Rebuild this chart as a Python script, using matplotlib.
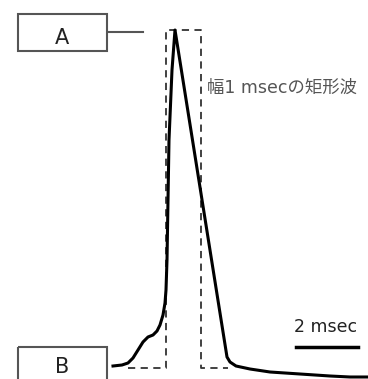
import numpy as np
import matplotlib.pyplot as plt

plt.rcParams['font.family'] = ['DejaVu Sans', 'Noto Sans CJK JP']

# waveform trace (picture units, y grows downward)
wave_x = [113, 122, 128, 133, 138, 143, 148, 153, 157, 160, 163, 165, 166, 167, 169, 172, 175,
          227, 230, 236, 250, 270, 300, 330, 350, 368]
wave_y = [366, 365, 363, 358, 350, 342, 337, 335, 331, 325, 315, 303, 290, 260, 140, 70, 30,
          357, 362, 366, 369, 372, 374, 376, 377, 377]

# 1 msec rectangular pulse
rect_x = [128, 166, 166, 201, 201, 228]
rect_y = [368, 368, 30, 30, 368, 368]

# scale bar (2 msec)
bar_x = [296, 358]
bar_y = [347, 347]

labels = ['A', 'B']
box_y = [14, 347]
label_y = [38, 367]

fig = plt.figure(figsize=(3.68, 3.79), dpi=100)
ax = fig.add_axes([0, 0, 1, 1])
ax.set_xlim(0, 368)
ax.set_ylim(379, 0)
ax.axis('off')

ax.plot(rect_x, rect_y, color='#333333', lw=1.3, ls=(0, (4, 3)))
ax.plot(wave_x, wave_y, color='black', lw=2.2, solid_joinstyle='round')

for lab, y0, ly in zip(labels, box_y, label_y):
    ax.add_patch(plt.Rectangle((18, y0), 89, 37, fill=False, ec='#555555', lw=1.5))
    ax.text(62, ly, lab, ha='center', va='center', fontsize=15, color='#222222')

ax.plot([108, 143], [32, 32], color='#555555', lw=1.5)

ax.text(207, 88, '幅1 msecの矩形波', ha='left', va='center', fontsize=12.5, color='#555555')

ax.plot(bar_x, bar_y, color='black', lw=2.5)
ax.text(326, 327, '2 msec', ha='center', va='center', fontsize=12.5, color='#222222')

fig.savefig('out.png', dpi=100)
